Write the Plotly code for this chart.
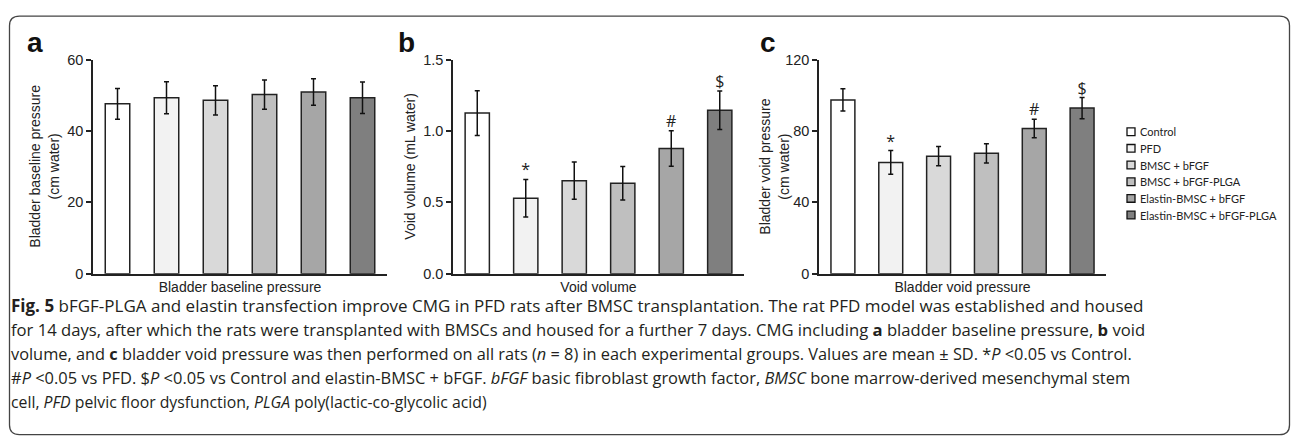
import plotly.graph_objects as go

W, H = 1292, 444

groups = ["Control", "PFD", "BMSC + bFGF", "BMSC + bFGF-PLGA",
          "Elastin-BMSC + bFGF", "Elastin-BMSC + bFGF-PLGA"]
colors = ["#ffffff", "#f2f2f2", "#d9d9d9", "#bfbfbf", "#a6a6a6", "#7f7f7f"]

baseline_mean = [47.6, 49.3, 48.6, 50.2, 50.9, 49.3]
baseline_sd = [4.3, 4.5, 4.1, 4.1, 3.7, 4.4]
baseline_marks = ["", "", "", "", "", ""]

volume_mean = [1.125, 0.529, 0.652, 0.634, 0.877, 1.145]
volume_sd = [0.157, 0.132, 0.131, 0.118, 0.124, 0.135]
volume_marks = ["", "*", "", "", "#", "&#36;"]

void_mean = [97.4, 62.4, 65.9, 67.5, 81.4, 92.8]
void_sd = [6.2, 6.6, 5.4, 5.4, 5.2, 5.9]
void_marks = ["", "*", "", "", "#", "&#36;"]

panels = [
    dict(letter="a", mean=baseline_mean, sd=baseline_sd, marks=baseline_marks,
         xtitle="Bladder baseline pressure",
         ytitle="Bladder baseline pressure<br>(cm water)",
         yrange=[0, 60], dtick=20, fmt="", xdom=(93, 387), ytx=44, lx=35),
    dict(letter="b", mean=volume_mean, sd=volume_sd, marks=volume_marks,
         xtitle="Void volume", ytitle="Void volume (mL water)",
         yrange=[0, 1.5], dtick=0.5, fmt=".1f", xdom=(453, 744), ytx=410, lx=406),
    dict(letter="c", mean=void_mean, sd=void_sd, marks=void_marks,
         xtitle="Bladder void pressure",
         ytitle="Bladder void pressure<br>(cm water)",
         yrange=[0, 120], dtick=40, fmt="", xdom=(819, 1106), ytx=774, lx=768),
]

Y_TOP, Y_BOT = 53.5, 275.7


def px(x):
    return x / W


def py(y):
    return 1 - y / H


fig = go.Figure()
annotations = []
shapes = []

tick_font = dict(family="Liberation Sans, Arial, sans-serif", size=14.5, color="#222222")
title_font = dict(family="Liberation Sans, Arial, sans-serif", size=14, color="#222222")

for i, p in enumerate(panels):
    n = i + 1
    xa = "x" if n == 1 else f"x{n}"
    ya = "y" if n == 1 else f"y{n}"
    fig.add_trace(go.Bar(
        x=groups, y=p["mean"], width=0.5,
        marker=dict(color=colors, line=dict(color="#222222", width=1.5)),
        error_y=dict(type="data", array=p["sd"], visible=True,
                     color="#111111", thickness=1.5, width=2.5),
        xaxis=xa, yaxis=ya, showlegend=False, hoverinfo="skip",
    ))
    tops = [m + s for m, s in zip(p["mean"], p["sd"])]
    fig.add_trace(go.Scatter(
        x=groups, y=tops, text=p["marks"], mode="text",
        textposition="top center",
        textfont=dict(family="Open Sans, sans-serif", size=16, color="#222222"),
        xaxis=xa, yaxis=ya, showlegend=False, hoverinfo="skip",
    ))
    xkey = "xaxis" if n == 1 else f"xaxis{n}"
    ykey = "yaxis" if n == 1 else f"yaxis{n}"
    fig.update_layout({
        xkey: dict(domain=[px(p["xdom"][0]), px(p["xdom"][1])],
                   anchor=ya, showticklabels=False, ticks="",
                   showline=True, linecolor="#222222", linewidth=1.5,
                   showgrid=False, zeroline=False, fixedrange=True,
                   title=dict(text=p["xtitle"], standoff=8, font=title_font)),
        ykey: dict(domain=[py(Y_BOT), py(Y_TOP)], anchor=xa,
                   range=p["yrange"], dtick=p["dtick"], tick0=0,
                   tickformat=p["fmt"], ticks="outside", ticklen=5,
                   tickwidth=1.5, tickcolor="#222222",
                   showline=True, linecolor="#222222", linewidth=1.5,
                   showgrid=False, zeroline=False, tickfont=tick_font,
                   fixedrange=True),
    })
    annotations.append(dict(
        text=p["ytitle"], textangle=-90, x=px(p["ytx"]), y=py((Y_TOP + Y_BOT) / 2),
        xref="paper", yref="paper", xanchor="center", yanchor="middle",
        showarrow=False, font=title_font,
    ))
    annotations.append(dict(
        text=f"<b>{p['letter']}</b>", x=px(p["lx"]), y=py(36), xref="paper",
        yref="paper", xanchor="center", yanchor="middle", showarrow=False,
        font=dict(family="Liberation Sans, Arial, sans-serif", size=28, color="#111111"),
    ))

# legend (drawn beside panel c)
leg_x0, leg_y0, leg_dy, box = 1127, 128.3, 17.3, 8
for k, (g, c) in enumerate(zip(groups, colors)):
    yc = leg_y0 + k * leg_dy
    shapes.append(dict(type="rect", xref="paper", yref="paper",
                       x0=px(leg_x0), x1=px(leg_x0 + box),
                       y0=py(yc - box / 2), y1=py(yc + box / 2),
                       fillcolor=c, line=dict(color="#111111", width=1.3)))
    annotations.append(dict(text=g, x=px(leg_x0 + box + 2.5), y=py(yc),
                            xref="paper", yref="paper", xanchor="left",
                            yanchor="middle", showarrow=False,
                            font=dict(family="Lato, Open Sans, sans-serif",
                                      size=11, color="#222222")))

caption_lines = [
    "<b>Fig. 5</b> bFGF-PLGA and elastin transfection improve CMG in PFD rats after BMSC transplantation. The rat PFD model was established and housed",
    "for 14 days, after which the rats were transplanted with BMSCs and housed for a further 7 days. CMG including <b>a</b> bladder baseline pressure, <b>b</b> void",
    "volume, and <b>c</b> bladder void pressure was then performed on all rats (<i>n</i> = 8) in each experimental groups. Values are mean ± SD. *<i>P</i> &lt;0.05 vs Control.",
    "#<i>P</i> &lt;0.05 vs PFD. &#36;<i>P</i> &lt;0.05 vs Control and elastin-BMSC + bFGF. <i>bFGF</i> basic fibroblast growth factor, <i>BMSC</i> bone marrow-derived mesenchymal stem",
    "cell, <i>PFD</i> pelvic floor dysfunction, <i>PLGA</i> poly(lactic-co-glycolic acid)",
]
cap_y = [308.3, 333.5, 358.7, 383.7, 408.5]
cap_size = [17.0, 16.65, 16.35, 16.45, 15.8]
for line, yc, fs in zip(caption_lines, cap_y, cap_size):
    annotations.append(dict(text=line, x=px(9), y=py(yc), xref="paper", yref="paper",
                            xanchor="left", yanchor="middle", showarrow=False,
                            font=dict(family="Open Sans, sans-serif",
                                      size=fs, color="#231f20")))

# rounded frame
x0, y0, x1, y1, r = 9.5, 8.5, 1289.5, 442.5, 10
path = (f"M {px(x0 + r)},{py(y0)} L {px(x1 - r)},{py(y0)} "
        f"Q {px(x1)},{py(y0)} {px(x1)},{py(y0 + r)} "
        f"L {px(x1)},{py(y1 - r)} Q {px(x1)},{py(y1)} {px(x1 - r)},{py(y1)} "
        f"L {px(x0 + r)},{py(y1)} Q {px(x0)},{py(y1)} {px(x0)},{py(y1 - r)} "
        f"L {px(x0)},{py(y0 + r)} Q {px(x0)},{py(y0)} {px(x0 + r)},{py(y0)} Z")
shapes.append(dict(type="path", path=path, xref="paper", yref="paper",
                   line=dict(color="#444444", width=1.3)))

fig.update_layout(
    width=W, height=H, autosize=False,
    margin=dict(l=0, r=0, t=0, b=0),
    paper_bgcolor="white", plot_bgcolor="white",
    annotations=annotations, shapes=shapes, showlegend=False,
)

fig.write_html(
    "out.html",
    config={"displayModeBar": False},
    post_script=("var d=document.getElementById('{plot_id}');"
                 "d.style.position='fixed';d.style.top='0px';d.style.left='0px';"
                 "document.body.style.margin='0';"
                 "document.body.style.overflow='hidden';"
                 "document.documentElement.style.overflow='hidden';"),
)
